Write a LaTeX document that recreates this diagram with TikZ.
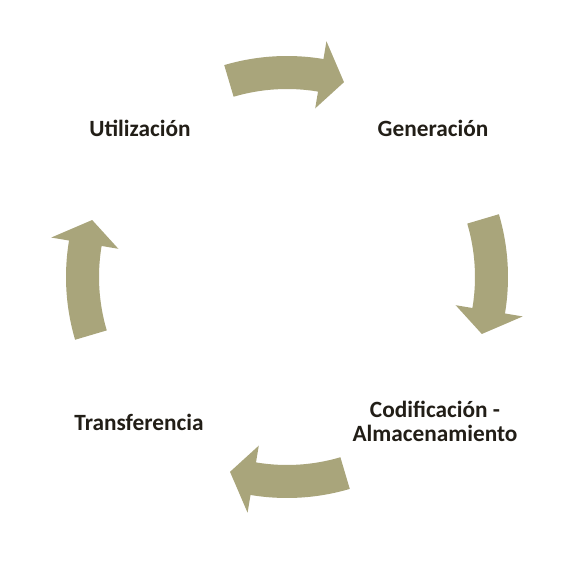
\documentclass[tikz,border=0pt]{standalone}
\usepackage{fontspec}
\setmainfont{Carlito}
\definecolor{arrowfill}{HTML}{A9A57B}
\definecolor{labeltext}{HTML}{221E17}
\newcommand\cyclearrow[1]{%
  \fill[arrowfill] (#1+16.5:221) arc[start angle=#1+16.5, end angle=#1-9.5, radius=221]
    -- (#1-9.5:239) -- (#1-16.3:203) -- (#1-9.5:171) -- (#1-9.5:188)
    arc[start angle=#1-9.5, end angle=#1+16.5, radius=188] -- cycle;}
\begin{document}
\begin{tikzpicture}[x=1pt,y=1pt,
  lbl/.style={font=\fontsize{23.3}{26}\selectfont\bfseries, text=labeltext, inner sep=0pt, anchor=base, align=center}]
\useasboundingbox (0,0) rectangle (568,568);
\fill[white] (0,0) rectangle (568,568);
\begin{scope}[shift={(287,291)}]
  \cyclearrow{90}
  \cyclearrow{0}
  \cyclearrow{-90}
  \cyclearrow{180}
\end{scope}
\node[lbl] (util) at (140,431) {Utilización};
\node[lbl] (gen) at (433,431) {Generación};
\node[lbl] (cod) at (435,150) {Codificación -};
\node[lbl] (alm) at (435,126) {Almacenamiento};
\node[lbl] (trans) at (139,137) {Transferencia};
\end{tikzpicture}
\end{document}
